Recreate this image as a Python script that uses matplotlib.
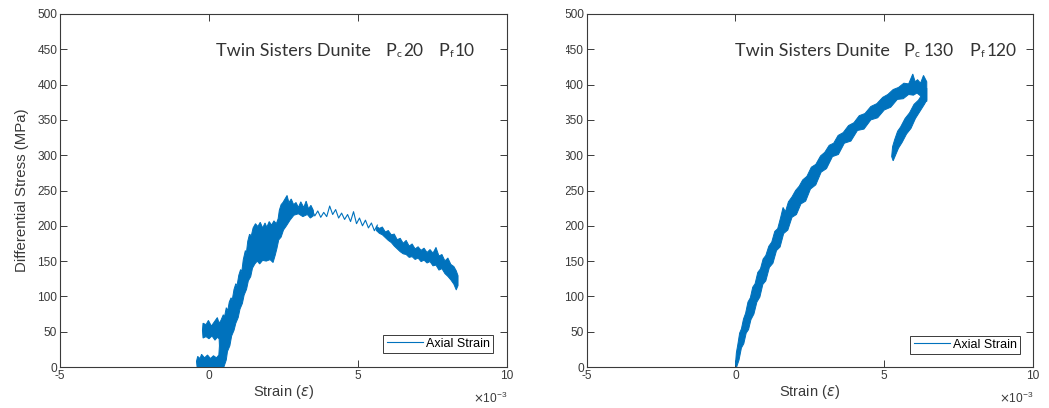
import numpy as np
import matplotlib
matplotlib.use("Agg")
import matplotlib.pyplot as plt
from matplotlib.patches import Rectangle
from matplotlib.lines import Line2D
from matplotlib.ticker import FuncFormatter

plt.rcParams['font.family'] = ['Liberation Sans', 'DejaVu Sans']
plt.rcParams['mathtext.fontset'] = 'dejavusans'

BLUE = '#0072BD'
AX_COLOR = '#3a3a3a'
TITLE_COLOR = '#333333'
STRAIN_UNIT = 1e-3          # all strain values below are in units of 1e-3

# ---------------- Pc 20 / Pf 10 ----------------
# loading band (foot, 50 MPa branch, rise, peak): upper-left edge
pc20_band_top_strain = [-0.40, -0.42, -0.38, -0.30, -0.25, -0.15, -0.05, 0.05, 0.15, 0.25,
                        0.33, 0.35, 0.34, 0.28, 0.20, 0.10, 0.00, -0.10, -0.20, -0.22,
                        -0.20, -0.10, -0.02, 0.08, 0.18, 0.28, 0.34,
                        0.40, 0.48, 0.52, 0.58, 0.63, 0.68, 0.74, 0.78, 0.84, 0.90,
                        0.94, 1.00, 1.06, 1.10, 1.15, 1.22, 1.25, 1.30, 1.36, 1.42,
                        1.48, 1.56, 1.64, 1.72, 1.80, 1.88, 1.94, 2.02, 2.10, 2.18,
                        2.26, 2.32, 2.36, 2.42, 2.48, 2.55, 2.62, 2.68, 2.76, 2.84,
                        2.92, 3.00, 3.08, 3.18, 3.26, 3.34, 3.42, 3.50]
pc20_band_top_stress = [0, 8, 15, 12, 18, 13, 17, 12, 16, 13,
                        17, 30, 40, 42, 38, 44, 40, 43, 41, 52,
                        62, 60, 66, 58, 64, 70, 62,
                        66, 74, 71, 84, 80, 92, 98, 95, 110, 118,
                        115, 130, 138, 135, 152, 165, 160, 178, 188, 186,
                        197, 203, 199, 205, 197, 204, 198, 206, 201, 207,
                        203, 210, 222, 230, 233, 238, 243, 233, 238, 230,
                        233, 226, 234, 226, 235, 224, 229, 222]
# loading band: lower-right edge
pc20_band_bot_strain = [0.50, 0.58, 0.62, 0.70, 0.76, 0.84, 0.90, 0.98, 1.04, 1.12,
                        1.18, 1.26, 1.32, 1.40, 1.46, 1.54, 1.62, 1.70, 1.80, 1.92,
                        2.05, 2.15, 2.22, 2.28, 2.34, 2.42, 2.50, 2.60, 2.72, 2.85,
                        3.00, 3.15, 3.30, 3.40, 3.50]
pc20_band_bot_stress = [0, 10, 22, 30, 44, 52, 62, 70, 82, 90,
                        102, 110, 122, 128, 140, 146, 150, 146, 151, 150,
                        152, 148, 158, 168, 180, 184, 194, 200, 208, 215,
                        217, 213, 216, 211, 214]
# sparse oscillation after the peak
pc20_mid_strain = [3.45, 3.55, 3.65, 3.75, 3.85, 3.95, 4.05, 4.15, 4.25, 4.35,
                   4.45, 4.55, 4.65, 4.75, 4.85, 4.95, 5.05, 5.15, 5.25, 5.35,
                   5.45, 5.55, 5.65]
pc20_mid_stress = [224, 214, 221, 212, 219, 213, 228, 216, 223, 211,
                   218, 209, 216, 206, 220, 203, 211, 200, 208, 197,
                   204, 193, 201]
# softening tail band
pc20_tail_strain = [5.60, 5.70, 5.80, 5.90, 6.00, 6.10, 6.20, 6.30, 6.40, 6.50,
                    6.60, 6.70, 6.80, 6.90, 7.00, 7.10, 7.20, 7.30, 7.40, 7.50,
                    7.60, 7.70, 7.80, 7.90, 8.00, 8.10, 8.20, 8.28, 8.34]
pc20_tail_top = [200, 197, 199, 192, 194, 188, 189, 181, 183, 176,
                 180, 172, 175, 168, 171, 166, 169, 163, 167, 162,
                 170, 158, 160, 151, 155, 146, 143, 137, 130]
pc20_tail_bot = [194, 190, 188, 184, 180, 177, 172, 168, 164, 161,
                 160, 156, 157, 153, 155, 150, 152, 148, 150, 144,
                 145, 138, 140, 133, 129, 124, 118, 110, 116]

# ---------------- Pc 130 / Pf 120 ----------------
pc130_top_strain = [0.00, 0.03, 0.08, 0.14, 0.20, 0.27, 0.34, 0.42, 0.50, 0.58,
                    0.66, 0.75, 0.84, 0.93, 1.02, 1.12, 1.22, 1.32, 1.42, 1.52,
                    1.60, 1.68, 1.78, 1.90, 2.02, 2.14, 2.26, 2.40, 2.55, 2.70,
                    2.86, 3.00, 3.15, 3.30, 3.45, 3.62, 3.80, 3.98, 4.16, 4.35,
                    4.55, 4.75, 4.95, 5.12, 5.30, 5.48, 5.66, 5.82, 5.96, 6.04,
                    6.12, 6.22, 6.32, 6.43]
pc130_top_stress = [4, 20, 32, 48, 54, 68, 76, 92, 98, 113,
                    118, 134, 139, 153, 158, 171, 177, 192, 196, 212,
                    226, 220, 234, 241, 250, 256, 265, 270, 283, 287,
                    299, 304, 314, 317, 328, 332, 342, 346, 356, 359,
                    369, 373, 382, 386, 393, 396, 402, 401, 415, 404,
                    407, 402, 413, 404]
pc130_bot_strain = [0.04, 0.12, 0.20, 0.28, 0.36, 0.44, 0.52, 0.62, 0.72, 0.82,
                    0.92, 1.02, 1.14, 1.26, 1.38, 1.50, 1.62, 1.76, 1.90, 2.05,
                    2.20, 2.36, 2.52, 2.70, 2.88, 3.06, 3.26, 3.46, 3.66, 3.88,
                    4.10, 4.32, 4.55, 4.78, 5.00, 5.22, 5.44, 5.64, 5.82, 5.98,
                    6.10, 6.22, 6.32, 6.43]
pc130_bot_stress = [0, 10, 27, 33, 48, 53, 67, 75, 92, 99,
                    117, 122, 141, 147, 165, 170, 189, 194, 212, 216,
                    231, 235, 252, 258, 276, 281, 298, 301, 317, 320,
                    335, 337, 350, 353, 364, 368, 379, 380, 386, 385,
                    388, 384, 380, 376]
# unloading hook
pc130_hook_top_strain = [6.43, 6.30, 6.15, 6.00, 5.85, 5.70, 5.55, 5.45, 5.35, 5.28, 5.25]
pc130_hook_top_stress = [395, 388, 378, 372, 360, 352, 340, 334, 322, 312, 298]
pc130_hook_bot_strain = [6.43, 6.35, 6.20, 6.05, 5.90, 5.75, 5.60, 5.48, 5.38, 5.30]
pc130_hook_bot_stress = [378, 372, 362, 352, 338, 330, 318, 310, 300, 292]

# title runs: (text, font size, gap before it in px, vertical shift in px)
title_runs = [
    [('Twin Sisters Dunite', 13, 0, 0), ('P', 13, 14, 0), ('c', 7.5, 0.5, 0),
     ('20', 12.5, 2.5, 0), ('P', 13, 15, 0), ('f', 7.5, 0.5, 0), ('10', 12.5, 1.5, 0)],
    [('Twin Sisters Dunite', 13, 0, 0), ('P', 13, 14, 0), ('c', 7.5, 0.5, 0),
     ('130', 12.5, 4, 0), ('P', 13, 15, 0), ('f', 7.5, 0.5, 0), ('120', 12.5, 3, 0)],
]
legend_label = 'Axial Strain'
x_ticks = [-5, 0, 5, 10]
y_ticks = list(range(0, 501, 50))


def s(vals):
    return np.asarray(vals, dtype=float) * STRAIN_UNIT


def band(ax, top_x, top_y, bot_x, bot_y):
    xs = np.concatenate([s(top_x), s(bot_x)[::-1]])
    ys = np.concatenate([np.asarray(top_y, float), np.asarray(bot_y, float)[::-1]])
    ax.fill(xs, ys, color=BLUE, lw=0.7, edgecolor=BLUE, zorder=3)


def style(ax):
    ax.set_xlim(-5 * STRAIN_UNIT, 10 * STRAIN_UNIT)
    ax.set_ylim(0, 500)
    ax.set_xticks(s(x_ticks))
    ax.set_yticks(y_ticks)
    ax.xaxis.set_major_formatter(FuncFormatter(lambda v, p: f'{v / STRAIN_UNIT:g}'))
    ax.tick_params(direction='in', length=5, width=0.7, top=True, right=True,
                   labelsize=8.6, colors=AX_COLOR, pad=2)
    for sp in ax.spines.values():
        sp.set_color(AX_COLOR)
        sp.set_linewidth(0.8)
    ax.set_xlabel('Strain ($\\epsilon$)', fontsize=10.5, color=AX_COLOR, labelpad=1)
    ax.text(1.0, -0.068, '$\\times\\mathregular{10^{-3}}$', transform=ax.transAxes,
            ha='right', va='top', fontsize=8.6, color=AX_COLOR)


def title_run(ax, x, y, runs):
    first = ax.text(x, y, runs[0][0], transform=ax.transAxes, ha='left', va='baseline',
                    fontsize=runs[0][1], family='Lato', color=TITLE_COLOR)
    prev = first
    for txt, size, gap, dy in runs[1:]:
        prev = ax.annotate(txt, xy=(1, 0), xycoords=(prev, first), xytext=(gap, dy),
                           textcoords='offset pixels', ha='left', va='bottom',
                           fontsize=size, family='Lato', color=TITLE_COLOR)


fig = plt.figure(figsize=(10.49, 4.08), dpi=100)
axL = fig.add_axes([60 / 1049, 41 / 408, 447 / 1049, 353 / 408])
axR = fig.add_axes([586.7 / 1049, 41 / 408, 446.3 / 1049, 353 / 408])

# left panel
band(axL, pc20_band_top_strain, pc20_band_top_stress, pc20_band_bot_strain, pc20_band_bot_stress)
axL.plot(s(pc20_mid_strain), pc20_mid_stress, color=BLUE, lw=0.8, zorder=3)
axL.fill_between(s(pc20_tail_strain), pc20_tail_bot, pc20_tail_top, color=BLUE,
                 lw=0.7, edgecolor=BLUE, zorder=3)
style(axL)
axL.set_ylabel('Differential Stress (MPa)', fontsize=10.8, color=AX_COLOR)
axL.yaxis.set_label_coords(-0.07, 0.5)

# right panel
band(axR, pc130_top_strain, pc130_top_stress, pc130_bot_strain, pc130_bot_stress)
band(axR, pc130_hook_top_strain, pc130_hook_top_stress, pc130_hook_bot_strain, pc130_hook_bot_stress)
style(axR)

title_x = [0.349, 0.332]
legend_anchor = [(0.9687, 0.0397), (0.971, 0.037)]
for ax, runs, tx, anc in zip([axL, axR], title_runs, title_x, legend_anchor):
    title_run(ax, tx, 0.882, runs)
    handle = Line2D([], [], color=BLUE, lw=0.8)
    leg = ax.legend([handle], [legend_label], loc='lower right', bbox_to_anchor=anc,
                    borderaxespad=0, fontsize=9, frameon=True, fancybox=False,
                    edgecolor=AX_COLOR, handlelength=2.9, handletextpad=0.25,
                    borderpad=0.25, framealpha=1)
    leg.get_frame().set_linewidth(0.7)

# the right panel's tick labels are trimmed on their left side
fig.patches.append(Rectangle((535 / 1049, 0), 31 / 1049, 1, transform=fig.transFigure,
                             facecolor='white', edgecolor='none', zorder=10))

fig.savefig('out.png', dpi=100, facecolor='white')
